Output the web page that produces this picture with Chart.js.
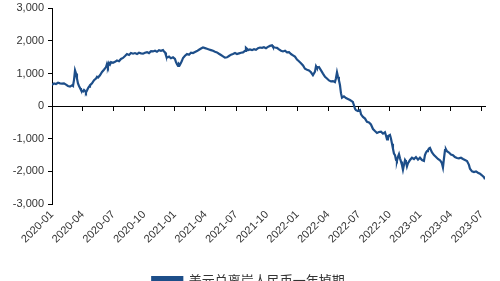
<!DOCTYPE html>
<html>
<head>
<meta charset="utf-8">
<script src="https://cdn.jsdelivr.net/npm/chart.js@4"></script>
<style>
  html, body { margin: 0; padding: 0; background: #fff; overflow: hidden; }
  canvas { display: block; }
</style>
</head>
<body>
<canvas id="c" width="500" height="281"></canvas>
<script>
// months since 2020-01 (x position of each reading)
const months = [
  0, 0.20, 0.39, 0.59, 0.78, 0.98, 1.17, 1.37, 1.56, 1.76, 1.96, 2.05, 2.15, 2.25, 2.35, 2.44, 2.54, 2.64, 2.74, 2.83,
  2.93, 3.03, 3.13, 3.23, 3.32, 3.42, 3.52, 3.62, 3.71, 3.91, 4.11, 4.30, 4.40, 4.50, 4.69, 4.89, 5.08, 5.28, 5.38, 5.47,
  5.57, 5.67, 5.77, 5.96, 6.16, 6.35, 6.55, 6.74, 6.94, 7.14, 7.33, 7.53, 7.72, 7.92, 8.11, 8.31, 8.50, 8.70, 8.90, 9.09,
  9.29, 9.48, 9.68, 9.87, 10.07, 10.26, 10.46, 10.65, 10.85, 10.95, 11.05, 11.14, 11.24, 11.44, 11.63, 11.83, 12.02, 12.12, 12.22, 12.32,
  12.41, 12.51, 12.61, 12.71, 12.81, 13.00, 13.20, 13.39, 13.59, 13.78, 13.98, 14.17, 14.37, 14.57, 14.76, 14.96, 15.15, 15.35, 15.54, 15.74,
  15.93, 16.13, 16.32, 16.52, 16.72, 16.91, 17.11, 17.30, 17.50, 17.69, 17.89, 18.08, 18.28, 18.48, 18.67, 18.87, 18.96, 19.06, 19.16, 19.35,
  19.55, 19.75, 19.94, 20.14, 20.33, 20.53, 20.72, 20.92, 21.11, 21.31, 21.51, 21.60, 21.80, 21.99, 22.19, 22.39, 22.58, 22.78, 22.97, 23.17,
  23.36, 23.56, 23.75, 23.95, 24.14, 24.34, 24.54, 24.73, 24.93, 25.12, 25.32, 25.51, 25.71, 25.81, 25.90, 26.10, 26.30, 26.49, 26.69, 26.88,
  27.08, 27.27, 27.47, 27.66, 27.76, 27.86, 27.96, 28.05, 28.15, 28.25, 28.35, 28.54, 28.74, 28.93, 29.13, 29.33, 29.42, 29.52, 29.62, 29.72,
  29.91, 30.11, 30.21, 30.40, 30.60, 30.79, 30.99, 31.18, 31.38, 31.57, 31.77, 31.96, 32.16, 32.36, 32.55, 32.65, 32.75, 32.84, 33.04, 33.14,
  33.24, 33.33, 33.43, 33.53, 33.63, 33.72, 33.82, 33.92, 34.02, 34.12, 34.21, 34.31, 34.41, 34.51, 34.60, 34.70, 34.80, 34.90, 35.00, 35.19,
  35.39, 35.58, 35.78, 35.97, 36.17, 36.36, 36.46, 36.56, 36.66, 36.75, 36.85, 36.95, 37.05, 37.15, 37.34, 37.54, 37.73, 37.93, 38.03, 38.12,
  38.22, 38.32, 38.42, 38.51, 38.61, 38.81, 39.00, 39.20, 39.39, 39.59, 39.78, 39.98, 40.18, 40.37, 40.57, 40.76, 40.86, 41.06, 41.25, 41.45,
  41.64, 41.84, 42.03, 42.23, 42.33
];

const swapPoints = [
  650, 700, 680, 720, 700, 690, 700, 660, 620, 600, 640, 620, 800, 1100, 1000, 850, 700, 620, 560, 500,
  470, 450, 500, 470, 420, 480, 550, 600, 640, 700, 800, 850, 900, 880, 950, 1050, 1120, 1200, 1300, 1220,
  1330, 1280, 1350, 1330, 1360, 1400, 1380, 1450, 1480, 1540, 1600, 1570, 1630, 1610, 1630, 1600, 1640, 1620, 1610, 1640,
  1660, 1630, 1690, 1680, 1700, 1670, 1720, 1700, 1720, 1680, 1650, 1560, 1490, 1520, 1470, 1500, 1450, 1350, 1290, 1240,
  1300, 1270, 1330, 1400, 1480, 1550, 1600, 1580, 1640, 1630, 1660, 1690, 1730, 1770, 1800, 1780, 1760, 1740, 1720, 1700,
  1670, 1650, 1610, 1570, 1530, 1490, 1500, 1540, 1580, 1600, 1630, 1600, 1620, 1640, 1650, 1700, 1790, 1760, 1720, 1740,
  1720, 1750, 1730, 1780, 1800, 1790, 1810, 1780, 1820, 1850, 1870, 1820, 1800, 1790, 1740, 1700, 1680, 1700, 1650, 1660,
  1600, 1560, 1520, 1430, 1380, 1320, 1250, 1150, 1120, 1100, 1040, 950, 1060, 1230, 1180, 1200, 1100, 1000, 900, 850,
  790, 760, 770, 740, 860, 1040, 900, 800, 650, 400, 260, 300, 250, 220, 190, 150, 120, 30, -80, -120,
  -150, -120, -250, -330, -380, -480, -500, -560, -700, -760, -820, -790, -780, -840, -800, -900, -1020, -920, -880, -1000,
  -1150, -1300, -1450, -1500, -1650, -1680, -1550, -1470, -1600, -1700, -1800, -1950, -1800, -1650, -1700, -1850, -1750, -1700, -1650, -1580,
  -1620, -1560, -1640, -1580, -1650, -1680, -1500, -1420, -1380, -1350, -1300, -1280, -1350, -1420, -1500, -1560, -1620, -1660, -1700, -1750,
  -1880, -1600, -1350, -1320, -1380, -1420, -1480, -1500, -1560, -1590, -1600, -1580, -1620, -1650, -1680, -1800, -1920, -2000, -2020, -2000,
  -2040, -2070, -2120, -2180, -2240
];

const yTicks = [-3000, -2000, -1000, 0, 1000, 2000, 3000];
const xTickLabels = ['2020-01', '2020-04', '2020-07', '2020-10', '2021-01', '2021-04', '2021-07', '2021-10',
  '2022-01', '2022-04', '2022-07', '2022-10', '2023-01', '2023-04', '2023-07'];
const seriesName = '美元兑离岸人民币一年掉期';

const points = months.map((m, i) => ({ x: m, y: swapPoints[i] }));
const tickFont = { family: 'Liberation Sans, Arial, sans-serif', size: 11 };
const lineColor = '#1d4e89';

new Chart(document.getElementById('c'), {
  type: 'line',
  data: {
    datasets: [{
      label: seriesName,
      data: points,
      borderColor: lineColor,
      backgroundColor: lineColor,
      borderWidth: 2.2,
      pointRadius: 0,
      tension: 0,
      xAxisID: 'x',
    }],
  },
  options: {
    responsive: false,
    animation: false,
    // negative bottom padding lets the legend run off the lower edge, as in the source image
    layout: { padding: { top: -3, right: 15, left: 12, bottom: -16 } },
    plugins: {
      tooltip: { enabled: false },
      legend: {
        position: 'bottom',
        labels: {
          boxWidth: 30,
          boxHeight: 7,
          padding: 8,
          color: '#333',
          font: { family: 'Noto Sans CJK SC', size: 13 },
        },
      },
    },
    scales: {
      x: {
        type: 'linear',
        min: 0,
        max: 42.33,
        border: { display: false },
        grid: { display: false, drawTicks: false },
        ticks: {
          stepSize: 3,
          includeBounds: false,
          autoSkip: false,
          minRotation: 45,
          maxRotation: 45,
          padding: 4,
          color: '#333',
          font: tickFont,
          callback: (v) => xTickLabels[Math.round(v / 3)] || '',
        },
        afterFit: (s) => { s.height = 62; },
      },
      x2: {
        type: 'linear',
        position: { y: 0 },
        min: 0,
        max: 42.33,
        border: { display: true, color: '#000', width: 1 },
        grid: { drawOnChartArea: false, drawTicks: true, tickLength: 4, color: '#000' },
        ticks: { stepSize: 3, includeBounds: false, autoSkip: false, display: false },
      },
      y: {
        min: -3000,
        max: 3000,
        afterBuildTicks: (s) => { s.ticks = yTicks.map((v) => ({ value: v })); },
        border: { display: true, color: '#000', width: 1 },
        grid: { drawOnChartArea: false, drawTicks: true, tickLength: 4, color: '#000' },
        ticks: {
          padding: 4,
          color: '#333',
          font: { ...tickFont, lineHeight: 0.8 },
          callback: (v) => v.toLocaleString('en-US'),
        },
        afterFit: (s) => { s.width = 40; },
      },
    },
  },
});
</script>
</body>
</html>
